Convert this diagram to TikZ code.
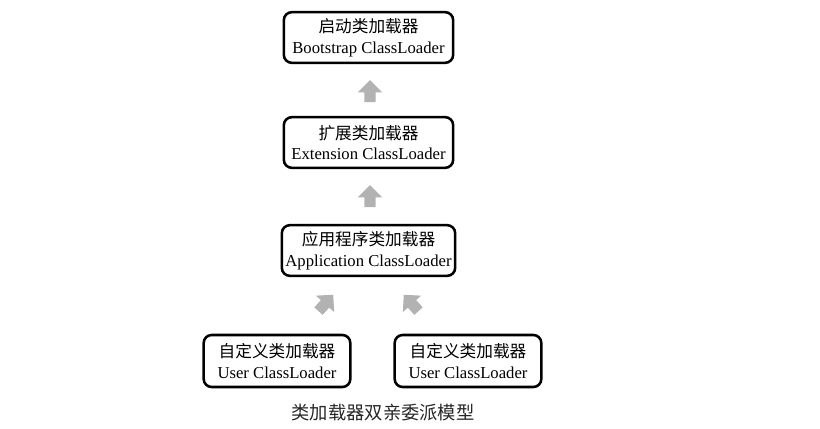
\documentclass[tikz,border=0pt]{standalone}
\usepackage{fontspec}
\setmainfont{Liberation Serif}
\newfontfamily\cjk{Noto Sans CJK SC}
\usetikzlibrary{shapes.arrows}
\definecolor{arrowgray}{rgb}{0.7, 0.7, 0.7}
\tikzset{
  loader/.style={draw, line width=1.9pt, rounded corners=6pt, align=center,
    font=\fontsize{12.5}{15.5}\selectfont, inner sep=0pt, minimum height=38pt},
  blockarrow/.style={single arrow, fill=arrowgray, inner xsep=0pt, inner ysep=4pt,
    minimum height=16.5pt, single arrow head extend=5pt}
}

\begin{document}
\begin{tikzpicture}[x=0.75pt, y=-0.75pt]
\useasboundingbox (0, 0) rectangle (820, 428);
\node [loader, minimum width=127pt] (boot) at (368.5, 37.5) {{\cjk 启动类加载器}\\Bootstrap ClassLoader};
\node [loader, minimum width=127pt] (ext) at (368.5, 142.5) {{\cjk 扩展类加载器}\\Extension ClassLoader};
\node [loader, minimum width=130pt] (app) at (368.5, 250.5) {{\cjk 应用程序类加载器}\\Application ClassLoader};
\node [loader, minimum width=110pt, minimum height=39pt] (userA) at (277, 361) {{\cjk 自定义类加载器}\\User ClassLoader};
\node [loader, minimum width=110pt, minimum height=39pt] (userB) at (468, 361) {{\cjk 自定义类加载器}\\User ClassLoader};
\node [blockarrow, rotate=90] (up1) at (370, 94) {};
\node [blockarrow, rotate=90] (up2) at (370, 199) {};
\node [blockarrow, rotate=48] (up3) at (324, 305) {};
\node [blockarrow, rotate=132] (up4) at (413, 305) {};
\node [font=\cjk\fontsize{13.7}{16}\selectfont, text=black!85] (title) at (383, 413) {类加载器双亲委派模型};
\end{tikzpicture}
\end{document}
